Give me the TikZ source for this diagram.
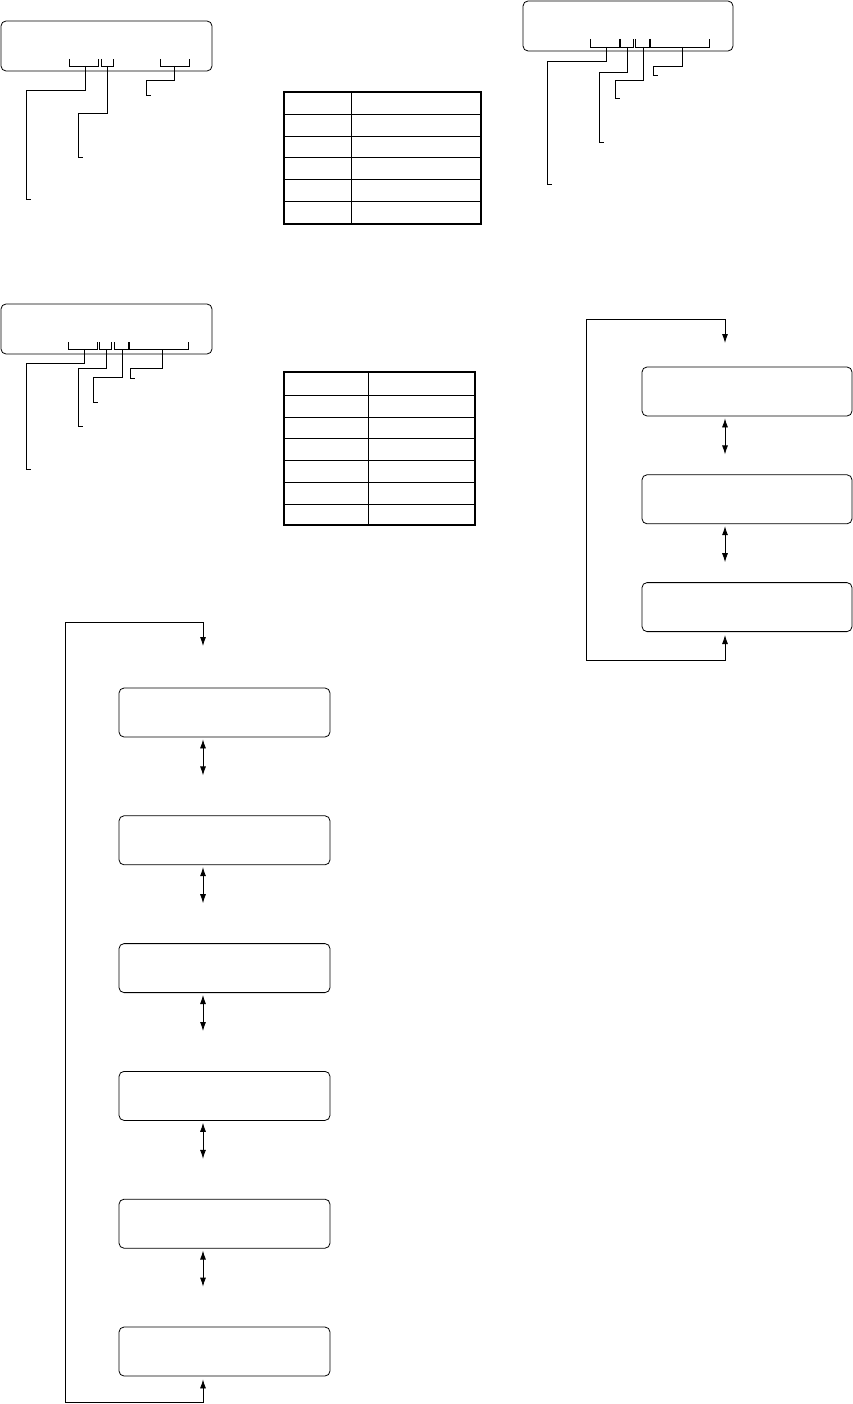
\documentclass[tikz,border=0pt]{standalone}
\usetikzlibrary{arrows.meta,positioning,calc}
\tikzset{
  dispbox/.style={draw,rounded corners=5pt,minimum width=211pt,minimum height=50pt,inner sep=0pt,line width=.8pt},
  flowbox/.style={dispbox,minimum height=49pt},
  brk/.style={line width=.9pt},
  leader/.style={line width=.9pt},
  loopedge/.style={{Latex[length=9pt,width=6pt]}-{Latex[length=9pt,width=6pt]},line width=.8pt},
  updown/.style={{Latex[length=9pt,width=6pt]}-{Latex[length=9pt,width=6pt]},line width=.8pt},
  tabout/.style={line width=1.8pt},
  tabin/.style={line width=1pt}
}
\begin{document}
\begin{tikzpicture}[x=1pt,y=-1pt]
  \useasboundingbox (0,0) rectangle (853,1404);

  % display A, top left
  \node[dispbox] (dA) at (106.5,46) {};
  \foreach \xa/\xb in {69/98,101/113,160/189}
    \draw[brk] (\xa,59) |- (\xb,66) -- (\xb,59);
  \coordinate (a1) at (85,66);  \coordinate (a1e) at (31,199);
  \coordinate (a2) at (107,66); \coordinate (a2e) at (83,157);
  \coordinate (a3) at (174,66); \coordinate (a3e) at (151,95);
  \draw[leader] (a1) |- (26,90) |- (a1e);
  \draw[leader] (a2) |- (78,113) |- (a2e);
  \draw[leader] (a3) |- (146,80) |- (a3e);

  % display B, middle left
  \node[dispbox] (dB) at (106.5,329) {};
  \foreach \xa/\xb in {68/97,99/111,114/128.6,129.4/188}
    \draw[brk] (\xa,342) |- (\xb,349) -- (\xb,342);
  \coordinate (b1) at (84,349);  \coordinate (b1e) at (31,469);
  \coordinate (b2) at (106,349); \coordinate (b2e) at (83,426);
  \coordinate (b3) at (122,349); \coordinate (b3e) at (98,402);
  \coordinate (b4) at (162,349); \coordinate (b4e) at (135,378);
  \draw[leader] (b1) |- (26,363) |- (b1e);
  \draw[leader] (b2) |- (78,368) |- (b2e);
  \draw[leader] (b3) |- (93,377) |- (b3e);
  \draw[leader] (b4) |- (130,368) |- (b4e);

  % display C, top right
  \node[dispbox,minimum width=210pt] (dC) at (628,26) {};
  \foreach \xa/\xb in {590/619.6,620.4/633,635/649.6,650.4/709}
    \draw[brk] (\xa,39) |- (\xb,47) -- (\xb,39);
  \coordinate (c1) at (606,47); \coordinate (c1e) at (552,184);
  \coordinate (c2) at (627,47); \coordinate (c2e) at (604,142);
  \coordinate (c3) at (643,47); \coordinate (c3e) at (620,98);
  \coordinate (c4) at (682,47); \coordinate (c4e) at (658,75);
  \draw[leader] (c1) |- (547,61) |- (c1e);
  \draw[leader] (c2) |- (599,72) |- (c2e);
  \draw[leader] (c3) |- (615,80) |- (c3e);
  \draw[leader] (c4) |- (653,66) |- (c4e);

  % table 1
  \foreach \y in {115,137,158,180,202}
    \draw[tabin] (284,\y) -- (481,\y);
  \draw[tabin] (351,92) -- (351,224);
  \draw[tabout] (284,92) rectangle (481,224);

  % table 2
  \foreach \y in {395,417,438,460,482,504}
    \draw[tabin] (284,\y) -- (475,\y);
  \draw[tabin] (368,372) -- (368,525);
  \draw[tabout] (284,372) rectangle (475,525);

  % right cycle
  \node[flowbox,minimum width=210pt] (r1) at (747,391.5) {};
  \node[flowbox,minimum width=210pt,below=58pt of r1] (r2) {};
  \node[flowbox,minimum width=210pt,below=58pt of r2] (r3) {};
  \foreach \n in {1,2}
    \draw[updown] ([xshift=-22pt,yshift=-2pt]r\n.south) -- ++(0,36);
  \draw[loopedge] ([xshift=-22pt,yshift=-3pt]r3.south) -- (725,660) -- (586,660)
    -- (586,319) -- (725,319) -- (725,343);

  % left cycle
  \node[flowbox] (s1) at (224.5,712.5) {};
  \node[flowbox,below=78pt of s1] (s2) {};
  \node[flowbox,below=78pt of s2] (s3) {};
  \node[flowbox,below=78pt of s3] (s4) {};
  \node[flowbox,below=78pt of s4] (s5) {};
  \node[flowbox,below=78pt of s5] (s6) {};
  \foreach \n in {1,...,5}
    \draw[updown] ([xshift=-21.5pt,yshift=-2pt]s\n.south) -- ++(0,36);
  \draw[loopedge] ([xshift=-21.5pt,yshift=-3pt]s6.south) -- (203,1402) -- (65,1402)
    -- (65,622) -- (203,622) -- (203,646);
\end{tikzpicture}
\end{document}
